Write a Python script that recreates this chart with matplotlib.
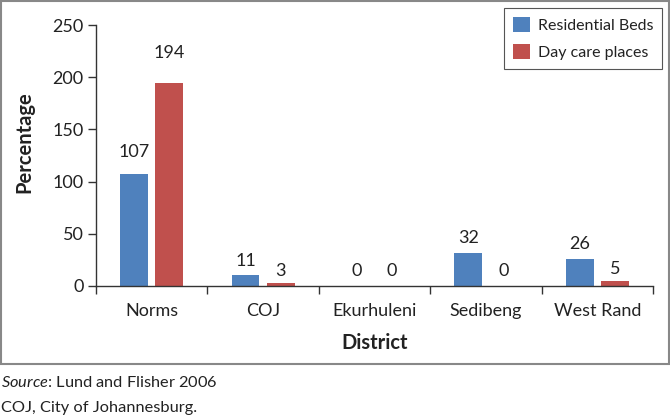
import matplotlib
matplotlib.use("Agg")
import matplotlib.pyplot as plt
from matplotlib.patches import Rectangle
import numpy as np

plt.rcParams['font.family'] = ['Lato', 'DejaVu Sans']
plt.rcParams['mathtext.fontset'] = 'custom'
plt.rcParams['mathtext.rm'] = 'Lato'
plt.rcParams['mathtext.it'] = 'Lato:italic'

districts = ["Norms", "COJ", "Ekurhuleni", "Sedibeng", "West Rand"]
residential_beds = [107, 11, 0, 32, 26]
day_care_places = [194, 3, 0, 0, 5]
series_names = ["Residential Beds", "Day care places"]
y_ticks = [0, 50, 100, 150, 200, 250]

blue = "#4F81BD"
red = "#C0504D"
txt = "#222222"

fig = plt.figure(figsize=(6.7, 4.17), dpi=100)
ax = fig.add_axes([96/670, 1-286/417, 557/670, 261/417])

x = np.arange(len(districts))
w = 0.25
gap = 0.065
b1 = ax.bar(x - (w+gap)/2, residential_beds, w, color=blue, label=series_names[0])
b2 = ax.bar(x + (w+gap)/2, day_care_places, w, color=red, label=series_names[1])

# label offsets in points (first group lifted as in the source)
off1 = [10, 4, 5, 5, 5]
off2 = [16, 3, 5, 5, 3]
for bars, vals, offs in ((b1, residential_beds, off1), (b2, day_care_places, off2)):
    for rect, v, o in zip(bars, vals, offs):
        ax.annotate(f"{v}", (rect.get_x() + rect.get_width()/2, v),
                    xytext=(0, o), textcoords="offset points",
                    ha="center", va="bottom", fontsize=13, color=txt)

ax.set_xlim(-0.5, len(districts) - 0.5)
ax.set_ylim(0, 250)
ax.set_yticks(y_ticks)
ax.set_yticklabels([str(t) for t in y_ticks], fontsize=13, color=txt)
ax.set_xticks(x)
ax.set_xticklabels(districts, fontsize=13, color=txt)
ax.set_xticks(np.arange(-0.5, len(districts)), minor=True)
ax.tick_params(axis='x', which='major', length=0, pad=12)
ax.tick_params(axis='x', which='minor', length=6, width=1, direction='out', color='#333333')
ax.tick_params(axis='y', length=6, width=1, color='#333333', pad=3)

for s in ('top', 'right'):
    ax.spines[s].set_visible(False)
for s in ('left', 'bottom'):
    ax.spines[s].set_color('#333333')
    ax.spines[s].set_linewidth(1)

ax.set_xlabel("District", fontsize=14.5, fontweight='bold', color=txt, labelpad=10)
ax.set_ylabel("Percentage", fontsize=14.5, fontweight='bold', color=txt)
ax.yaxis.set_label_coords(-0.11, 0.55)

leg = ax.legend(loc='upper right', bbox_to_anchor=(1.016, 1.065), borderaxespad=0,
                fancybox=False, edgecolor='#555555', framealpha=1, fontsize=11.5,
                handlelength=1.05, handleheight=1.05, handletextpad=0.5,
                labelspacing=0.7, borderpad=0.55)
leg.get_frame().set_linewidth(0.8)
for t in leg.get_texts():
    t.set_color(txt)

fig.add_artist(Rectangle((1/670, 1-364/417), 668/670, 363/417, transform=fig.transFigure,
                         fill=False, edgecolor='#888888', linewidth=1.5))

fig.text(1/670, 1-387/417, r"$\mathit{Source}$: Lund and Flisher 2006", fontsize=11.8,
         color=txt, ha='left', va='baseline')
fig.text(1/670, 1-412/417, "COJ, City of Johannesburg.", fontsize=11.8,
         color=txt, ha='left', va='baseline')

fig.savefig("out.png", dpi=100)
